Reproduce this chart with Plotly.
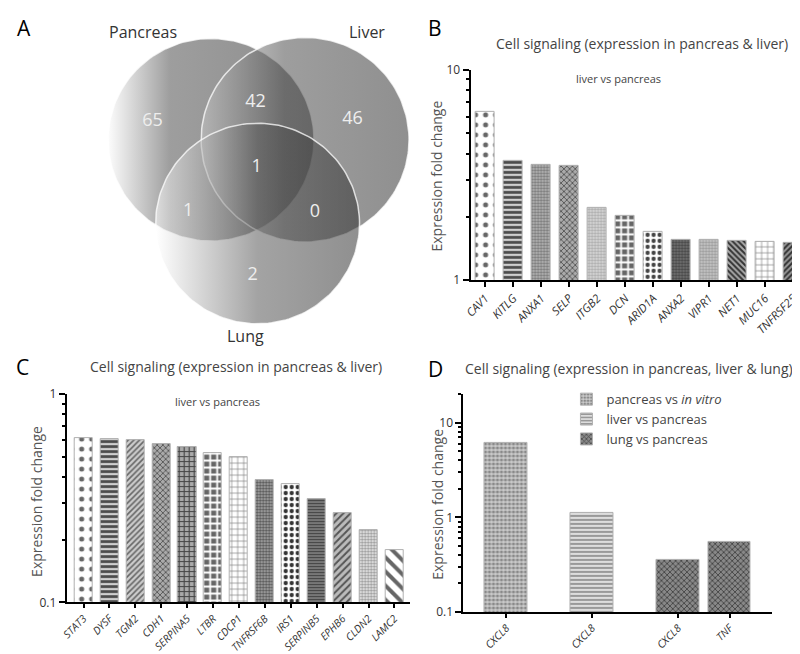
import numpy as np
import plotly.graph_objects as go

FONT = "Open Sans"

# ---- data ----
# Panel A: Venn counts
venn_sets = ["Pancreas", "Liver", "Lung"]
venn_regions = ["Pancreas only", "Pancreas & Liver", "Liver only", "All three",
                "Pancreas & Lung", "Liver & Lung", "Lung only"]
venn_counts = [65, 42, 46, 1, 1, 0, 2]

# Panel B: liver vs pancreas, up-regulated
b_genes = ["CAV1", "KITLG", "ANXA1", "SELP", "ITGB2", "DCN", "ARID1A",
           "ANXA2", "VIPR1", "NET1", "MUC16", "TNFRSF25"]
b_fold = [6.3, 3.68, 3.52, 3.48, 2.2, 2.02, 1.69, 1.56, 1.56, 1.53, 1.52, 1.50]

# Panel C: liver vs pancreas, down-regulated
c_genes = ["STAT3", "DYSF", "TGM2", "CDH1", "SERPINA5", "LTBR", "CDCP1",
           "TNFRSF6B", "IRS1", "SERPINB5", "EPHB6", "CLDN2", "LAMC2"]
c_fold = [0.613, 0.609, 0.603, 0.573, 0.555, 0.523, 0.50, 0.388, 0.371,
          0.314, 0.267, 0.223, 0.178]

# Panel D: three comparisons
d_groups = ["pancreas vs <i>in vitro</i>", "liver vs pancreas", "lung vs pancreas"]
d_genes = [["CXCL8"], ["CXCL8"], ["CXCL8", "TNF"]]
d_fold = [[6.2], [1.12], [0.355, 0.545]]

# ---- styling ----
# venn geometry in pixel units of the panel (x right, y down)
circles = {"Pancreas": (197, 126, 104), "Liver": (292, 126, 105), "Lung": (244, 212, 103)}
grads = {
    "Pancreas": [[0, "rgba(250,250,250,0.55)"], [0.3, "rgba(78,78,78,0.55)"], [1, "rgba(48,48,48,0.55)"]],
    "Liver": [[0, "rgba(200,200,200,0.55)"], [0.4, "rgba(78,78,78,0.55)"], [1, "rgba(52,52,52,0.55)"]],
    "Lung": [[0, "rgba(255,255,255,0.55)"], [0.5, "rgba(88,88,88,0.55)"], [1, "rgba(52,52,52,0.55)"]],
}
set_label_pos = {"Pancreas": (128, 15), "Liver": (355, 15), "Lung": (232, 327)}
region_pos = [(138, 107), (242, 88), (340, 105), (243, 155), (174, 200), (302, 201), (239, 265)]

b_style = dict(
    shape=[".", "-", ".", "x", ".", "+", ".", ".", ".", "\\", "+", "/"],
    fgcolor=["#666", "#4a4a4a", "#777", "#555", "#aaa", "#fff", "#444", "#444", "#999", "#333", "#777", "#333"],
    bgcolor=["#fff", "#cfcfcf", "#bbb", "#aaa", "#ddd", "#666", "#fff", "#777", "#ccc", "#aaa", "#fff", "#999"],
    size=[10, 5, 3, 4, 3, 7, 6, 3, 3, 4, 6, 4],
    solidity=[0.2, 0.55, 0.5, 0.4, 0.5, 0.45, 0.4, 0.5, 0.5, 0.5, 0.2, 0.5],
)
c_style = dict(
    shape=[".", "-", "/", "x", "+", "+", "+", ".", ".", "-", "/", ".", "\\"],
    fgcolor=["#666", "#4a4a4a", "#666", "#555", "#444", "#fff", "#777", "#555", "#333", "#444", "#555", "#999", "#666"],
    bgcolor=["#fff", "#cfcfcf", "#ccc", "#aaa", "#aaa", "#666", "#fff", "#aaa", "#fff", "#888", "#bbb", "#eee", "#fff"],
    size=[10, 5, 4, 4, 5, 7, 6, 3, 6, 3, 5, 3, 10],
    solidity=[0.2, 0.55, 0.4, 0.4, 0.4, 0.45, 0.2, 0.5, 0.4, 0.5, 0.4, 0.5, 0.4],
)
d_style = [
    dict(shape=".", fgcolor="#888", bgcolor="#ccc", size=4, solidity=0.5),
    dict(shape="-", fgcolor="#999", bgcolor="#ddd", size=4, solidity=0.5),
    dict(shape="x", fgcolor="#444", bgcolor="#888", size=4, solidity=0.4),
]

fig = go.Figure()

# Panel A - venn circles
theta = np.linspace(0, 2 * np.pi, 181)
for name in venn_sets:
    cx, cy, r = circles[name]
    fig.add_trace(go.Scatter(
        x=cx + r * np.cos(theta), y=cy + r * np.sin(theta),
        mode="lines", fill="toself",
        fillgradient=dict(type="horizontal", colorscale=grads[name]),
        line=dict(color="rgba(255,255,255,0.75)", width=1.5),
        xaxis="x3", yaxis="y3", showlegend=False, hoverinfo="skip",
    ))

for (px_, py_), n in zip(region_pos, venn_counts):
    fig.add_trace(go.Scatter(
        x=[px_], y=[py_], mode="text", text=[str(n)],
        textfont=dict(family=FONT, size=18, color="#eeeeee"),
        xaxis="x3", yaxis="y3", showlegend=False, hoverinfo="skip",
    ))

# Panel B
fig.add_trace(go.Bar(
    x=b_genes, y=b_fold, width=0.67,
    marker=dict(pattern=dict(fillmode="replace", **b_style), line=dict(color="#b0b0b0", width=1)),
    xaxis="x", yaxis="y", showlegend=False,
))

# Panel C
fig.add_trace(go.Bar(
    x=c_genes, y=c_fold, width=0.7,
    marker=dict(pattern=dict(fillmode="replace", **c_style), line=dict(color="#b0b0b0", width=1)),
    xaxis="x2", yaxis="y2", showlegend=False,
))

# Panel D - groups laid out with a gap between comparisons
d_pos, d_labels = [], []
for gi, (group, genes, vals) in enumerate(zip(d_groups, d_genes, d_fold)):
    pos = [gi + 0.6 * j for j in range(len(genes))]
    d_pos += pos
    d_labels += [f"<i>{g}</i>" for g in genes]
    fig.add_trace(go.Bar(
        x=pos, y=vals, width=0.5, name=group,
        marker=dict(pattern=dict(fillmode="replace", **d_style[gi]), line=dict(color="#b0b0b0", width=1)),
        xaxis="x4", yaxis="y4",
    ))

axis_common = dict(showline=True, linewidth=2, linecolor="black", ticks="outside",
                   tickwidth=2, tickcolor="black", showgrid=False, zeroline=False,
                   tickfont=dict(family=FONT, size=12, color="#333"))
minor_common = dict(ticks="outside", ticklen=3, tickwidth=1.5, tickcolor="black", showgrid=False)

fig.update_layout(
    width=800, height=654,
    margin=dict(l=0, r=0, t=0, b=0),
    plot_bgcolor="white", paper_bgcolor="white",
    font=dict(family=FONT, color="#333"),
    bargap=0,
    # B
    xaxis=dict(axis_common, domain=[0.574, 0.9975], anchor="y", range=[-0.53, 11.46],
               tickvals=b_genes, ticktext=[f"<i>{g}</i>" for g in b_genes],
               tickangle=-45, ticklen=5, tickfont=dict(family=FONT, size=11.5, color="#333")),
    yaxis=dict(axis_common, domain=[0.587, 0.917], anchor="x", type="log", range=[0, 1],
               tickvals=[1, 10], ticktext=["1", "10"], ticklen=6,
               minor=dict(minor_common, tickmode="array", tickvals=list(range(2, 10)))),
    # C
    xaxis2=dict(axis_common, domain=[0.064, 0.4975], anchor="y2", range=[-0.65, 12.6],
                tickvals=c_genes, ticktext=[f"<i>{g}</i>" for g in c_genes],
                tickangle=-45, ticklen=4, tickfont=dict(family=FONT, size=10.5, color="#333")),
    yaxis2=dict(axis_common, domain=[0.081, 0.408], anchor="x2", type="log", range=[-1, 0],
                tickvals=[0.1, 1], ticktext=["0.1", "1"], ticklen=6,
                minor=dict(minor_common, tickmode="array", tickvals=[i / 10 for i in range(2, 10)])),
    # A
    xaxis3=dict(domain=[0, 0.5], range=[0, 400], visible=False, fixedrange=True),
    yaxis3=dict(domain=[1 - 330 / 654, 1], range=[330, 0], visible=False, fixedrange=True),
    # D
    xaxis4=dict(axis_common, domain=[0.565, 0.954], anchor="y4", range=[-0.5, 3.09],
                tickvals=d_pos, ticktext=d_labels,
                tickangle=-45, ticklen=4, tickfont=dict(family=FONT, size=10.5, color="#333")),
    yaxis4=dict(axis_common, domain=[0.066, 0.4083], anchor="x4", type="log", range=[-1, 1.306],
                tickvals=[0.1, 1, 10], ticktext=["0.1", "1", "10"], ticklen=6,
                minor=dict(minor_common, tickmode="array",
                           tickvals=[i / 10 for i in range(2, 10)] + list(range(2, 10)) + [20])),
    legend=dict(x=556 / 800, y=1 - 377 / 654, xanchor="left", yanchor="top",
                font=dict(family=FONT, size=13, color="#444"), bgcolor="rgba(0,0,0,0)",
                tracegroupgap=0, itemwidth=30),
)


def px_note(text, x, y, size, color="#444", angle=0, xanchor="center"):
    fig.add_annotation(text=text, x=x / 800, y=1 - y / 654, xref="paper", yref="paper",
                       showarrow=False, textangle=angle, xanchor=xanchor, yanchor="middle",
                       font=dict(family=FONT, size=size, color=color))


# panel letters
px_note("A", 8, 11, 21, "black")
px_note("B", 423, 11, 21, "black")
px_note("C", 7, 359, 21, "black")
px_note("D", 424, 361, 21, "black")

# venn set labels
for name in venn_sets:
    lx, ly = set_label_pos[name]
    px_note(name, lx, ly, 16, "#333")

# titles
px_note("Cell signaling (expression in pancreas & liver)", 632, 27, 14)
px_note("Cell signaling (expression in pancreas & liver)", 222, 359, 14)
px_note("Cell signaling (expression in pancreas, liver & lung)", 619, 361, 14)
px_note("liver vs pancreas", 609, 63, 11)
px_note("liver vs pancreas", 204, 395, 11)

# y-axis titles
px_note("Expression fold change", 425, 163, 14, "#555", angle=-90)
px_note("Expression fold change", 20, 497, 14, "#555", angle=-90)
px_note("Expression fold change", 425, 500, 14, "#555", angle=-90)

fig.write_html("out.html")
